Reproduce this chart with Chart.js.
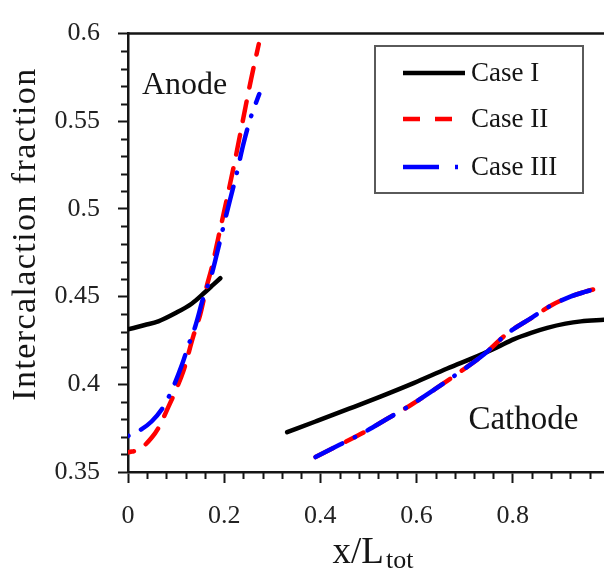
<!DOCTYPE html>
<html>
<head>
<meta charset="utf-8">
<script src="https://cdn.jsdelivr.net/npm/chart.js@4.4.1/dist/chart.umd.min.js"></script>
<style>
  html, body { margin: 0; padding: 0; background: #fff; }
  #wrap { width: 604px; height: 571px; }
</style>
</head>
<body>
<div id="wrap"><canvas id="c" width="604" height="571"></canvas></div>
<script>
// Intercalation fraction along the cell, anode (left) and cathode (right)
const caseIAnodeX   = [0, 0.035, 0.063, 0.098, 0.133, 0.160, 0.178, 0.192];
const caseIAnodeY   = [0.4313, 0.4338, 0.4359, 0.4405, 0.4461, 0.4525, 0.4570, 0.4605];
const caseICathodeX = [0.331, 0.39, 0.46, 0.525, 0.594, 0.664, 0.733, 0.768, 0.803, 0.84, 0.872, 0.91, 0.942, 0.99];
const caseICathodeY = [0.3727, 0.3788, 0.3861, 0.3930, 0.4007, 0.4090, 0.4168, 0.4212, 0.4258, 0.4295, 0.4322, 0.4346, 0.4359, 0.4368];

const caseIIAnodeX   = [0, 0.025, 0.049, 0.063, 0.084, 0.10, 0.115, 0.136, 0.15, 0.164, 0.174, 0.188, 0.205, 0.222, 0.24, 0.256, 0.272];
const caseIIAnodeY   = [0.3612, 0.3631, 0.3695, 0.375, 0.3871, 0.397, 0.4074, 0.4276, 0.4396, 0.4562, 0.4663, 0.4838, 0.505, 0.527, 0.552, 0.574, 0.594];
const caseIICathodeX = [0.39, 0.44, 0.49, 0.54, 0.59, 0.64, 0.69, 0.74, 0.79, 0.84, 0.88, 0.92, 0.95, 0.976];
const caseIICathodeY = [0.3585, 0.3655, 0.3725, 0.3805, 0.3885, 0.3975, 0.4070, 0.4170, 0.4292, 0.4380, 0.4450, 0.4500, 0.4527, 0.4547];

const caseIIIAnodeX   = [0, 0.025, 0.049, 0.070, 0.0875, 0.112, 0.126, 0.14, 0.157, 0.173, 0.185, 0.198, 0.212, 0.225, 0.24, 0.255, 0.273];
const caseIIIAnodeY   = [0.3705, 0.3738, 0.3788, 0.3856, 0.3944, 0.411, 0.4225, 0.4331, 0.4497, 0.4617, 0.4746, 0.4894, 0.505, 0.519, 0.537, 0.552, 0.5655];
const caseIIICathodeX = [0.39, 0.44, 0.49, 0.54, 0.59, 0.64, 0.69, 0.74, 0.79, 0.84, 0.88, 0.92, 0.95, 0.976];
const caseIIICathodeY = [0.3585, 0.3655, 0.3725, 0.3805, 0.3885, 0.3975, 0.4070, 0.4170, 0.4292, 0.4380, 0.4450, 0.4500, 0.4527, 0.4547];

const caseNames   = ['Case I', 'Case II', 'Case III'];
const xTickValues = [0, 0.2, 0.4, 0.6, 0.8];
const yTickValues = [0.35, 0.4, 0.45, 0.5, 0.55, 0.6];
const xMinorStep  = 0.04;
const yMinorStep  = 0.01;

const SERIF = "'Liberation Serif', 'Times New Roman', serif";
const INK = '#151515';

const pts = (xs, ys) => xs.map((x, i) => ({ x, y: ys[i] }));
const fmt = v => String(Math.round(v * 100) / 100);

const caseStyles = [
  { color: '#000000', dash: [],                order: 3 },
  { color: '#ff0000', dash: [20, 14],          order: 2 },
  { color: '#0000ff', dash: [30, 14, 0.5, 14], order: 1 }
];

function seg(caseIdx, xs, ys, dashOffset) {
  const s = caseStyles[caseIdx];
  return {
    label: caseNames[caseIdx],
    data: pts(xs, ys),
    showLine: true,
    borderColor: s.color,
    backgroundColor: s.color,
    borderWidth: 4.5,
    borderDash: s.dash,
    borderDashOffset: dashOffset || 0,
    borderCapStyle: 'round',
    borderJoinStyle: 'round',
    cubicInterpolationMode: 'monotone',
    pointRadius: 0,
    fill: false,
    order: s.order
  };
}

const datasets = [
  seg(0, caseIAnodeX, caseIAnodeY),
  seg(0, caseICathodeX, caseICathodeY),
  seg(1, caseIIAnodeX, caseIIAnodeY, 14),
  seg(1, caseIICathodeX, caseIICathodeY),
  seg(2, caseIIIAnodeX, caseIIIAnodeY, 44),
  seg(2, caseIIICathodeX, caseIIICathodeY)
];

// Frame, minor ticks, axis titles, region labels and the boxed legend
const decorations = {
  id: 'decorations',
  afterDraw(chart) {
    const { ctx, chartArea: a, scales: { x, y } } = chart;
    ctx.save();

    ctx.strokeStyle = INK;
    ctx.lineWidth = 2.5;
    ctx.beginPath();
    ctx.moveTo(a.left - 1, a.top);
    ctx.lineTo(a.right, a.top);
    ctx.stroke();

    ctx.lineWidth = 2;
    ctx.beginPath();
    for (let i = 0; ; i++) {
      const v = i * xMinorStep;
      if (v > x.max + 1e-9) break;
      const r = v / 0.2;
      if (Math.abs(r - Math.round(r)) < 1e-6) continue;
      const px = Math.round(x.getPixelForValue(v)) + 0.5;
      ctx.moveTo(px, a.bottom);
      ctx.lineTo(px, a.bottom + 7);
    }
    for (let i = 0; ; i++) {
      const v = y.min + i * yMinorStep;
      if (v > y.max + 1e-9) break;
      const r = (v - y.min) / 0.05;
      if (Math.abs(r - Math.round(r)) < 1e-6) continue;
      const py = Math.round(y.getPixelForValue(v)) + 0.5;
      ctx.moveTo(a.left, py);
      ctx.lineTo(a.left - 7, py);
    }
    ctx.stroke();

    ctx.fillStyle = INK;

    // y-axis title
    ctx.save();
    ctx.translate(35, 234);
    ctx.rotate(-Math.PI / 2);
    ctx.font = '34px ' + SERIF;
    if ('letterSpacing' in ctx) ctx.letterSpacing = '1.4px';
    ctx.textAlign = 'center';
    ctx.textBaseline = 'alphabetic';
    ctx.fillText('Intercalaction fraction', 0, 0);
    ctx.restore();

    // x-axis title with subscript
    ctx.textBaseline = 'alphabetic';
    ctx.textAlign = 'left';
    ctx.font = '37px ' + SERIF;
    const main = 'x/L';
    const wMain = ctx.measureText(main).width;
    ctx.font = '26px ' + SERIF;
    const sub = 'tot';
    const wSub = ctx.measureText(sub).width;
    const x0 = 373 - (wMain + 2 + wSub) / 2;
    ctx.font = '37px ' + SERIF;
    ctx.fillText(main, x0, 563);
    ctx.font = '26px ' + SERIF;
    ctx.fillText(sub, x0 + wMain + 2, 568);

    // electrode labels
    ctx.font = '32px ' + SERIF;
    ctx.fillText('Anode', x.getPixelForValue(0.029), y.getPixelForValue(0.5657));
    ctx.font = '33px ' + SERIF;
    ctx.fillText('Cathode', x.getPixelForValue(0.708), y.getPixelForValue(0.3743));

    // legend
    const bx = 375, by = 46, bw = 208, bh = 147;
    ctx.fillStyle = '#fff';
    ctx.fillRect(bx, by, bw, bh);
    ctx.strokeStyle = '#5a5a5a';
    ctx.lineWidth = 2;
    ctx.strokeRect(bx, by, bw, bh);
    const rows = [73, 119, 167];
    const legendDash = [[], [17, 15], [36, 16, 3, 10]];
    const legendEnd = [465, 453, 458];
    caseNames.forEach((name, i) => {
      const s = caseStyles[i];
      ctx.strokeStyle = s.color;
      ctx.lineWidth = 4.5;
      ctx.lineCap = 'butt';
      ctx.setLineDash(legendDash[i]);
      ctx.beginPath();
      ctx.moveTo(403, rows[i]);
      ctx.lineTo(legendEnd[i], rows[i]);
      ctx.stroke();
      ctx.setLineDash([]);
      ctx.fillStyle = INK;
      ctx.font = '27px ' + SERIF;
      ctx.textBaseline = 'middle';
      ctx.fillText(name, 471, rows[i] + 1);
    });

    ctx.restore();
  }
};

new Chart(document.getElementById('c'), {
  type: 'scatter',
  data: { datasets },
  options: {
    responsive: false,
    animation: false,
    devicePixelRatio: 1,
    layout: { padding: { top: 20, right: 0, bottom: 0, left: 0 } },
    plugins: { legend: { display: false }, tooltip: { enabled: false } },
    scales: {
      x: {
        type: 'linear',
        min: 0,
        max: 0.99,
        afterFit: s => { s.height = 99; },
        afterBuildTicks: s => { s.ticks = xTickValues.map(v => ({ value: v })); },
        grid: { display: true, drawOnChartArea: false, drawTicks: true, tickLength: 11, tickWidth: 2, tickColor: INK },
        border: { display: true, color: INK, width: 2.5 },
        ticks: { padding: 18, color: '#222', maxRotation: 0, autoSkip: false,
                 font: { size: 26, family: SERIF }, callback: v => fmt(v) }
      },
      y: {
        type: 'linear',
        min: 0.35,
        max: 0.6,
        afterFit: s => { s.width = 128; },
        afterBuildTicks: s => { s.ticks = yTickValues.map(v => ({ value: v })); },
        grid: { display: true, drawOnChartArea: false, drawTicks: true, tickLength: 10, tickWidth: 2, tickColor: INK },
        border: { display: true, color: INK, width: 2.5 },
        ticks: { padding: 18, color: '#222', autoSkip: false,
                 font: { size: 26, family: SERIF }, callback: v => fmt(v) }
      }
    }
  },
  plugins: [decorations]
});
</script>
</body>
</html>
